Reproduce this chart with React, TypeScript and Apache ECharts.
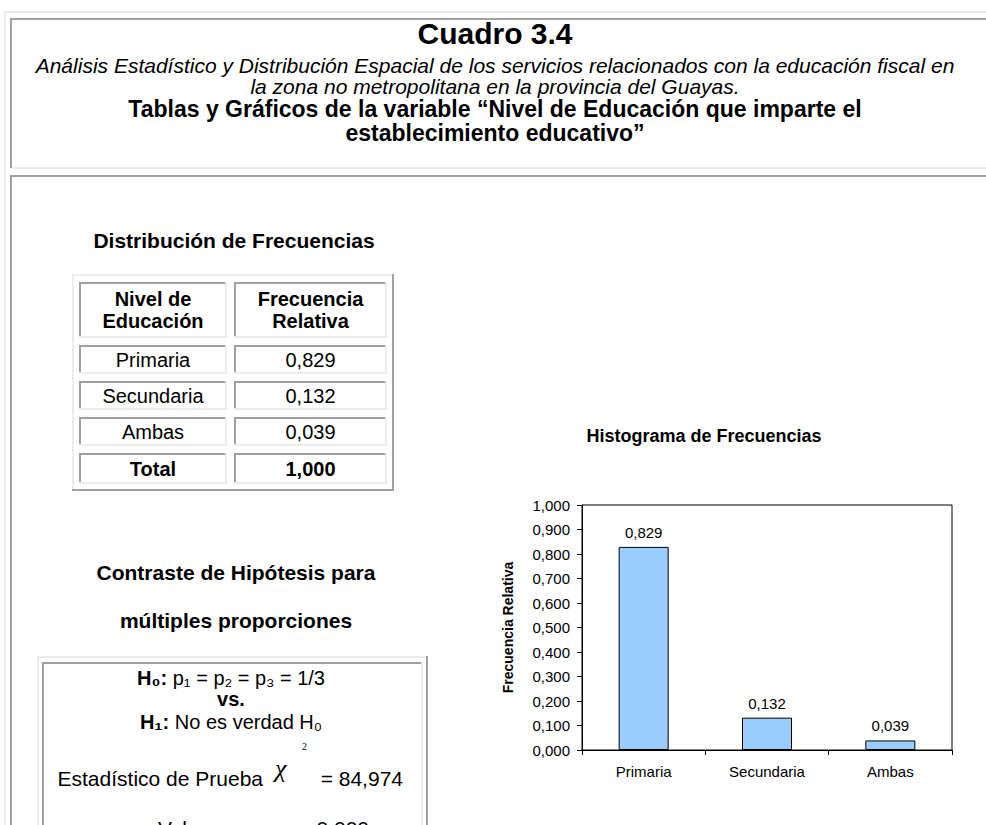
import React, { useEffect, useRef } from "react";
import * as echarts from "echarts";

// ---------- data ----------
const categories = ["Primaria", "Secundaria", "Ambas"];
const relFreq = [0.829, 0.132, 0.039];
const totalFreq = 1.0;
const headerCol1 = ["Nivel de", "Educación"];
const headerCol2 = ["Frecuencia", "Relativa"];
const yMin = 0;
const yMax = 1;
const yInterval = 0.1;
const chiSquare = 84.974;
const pValue = 0.0;

const FONT = "'Liberation Sans', Arial, Helvetica, sans-serif";
const SERIF = "'Liberation Serif', 'Times New Roman', serif";
const DARK = "#a0a0a0";
const LIGHT = "#ececec";

const fmt = (v: number) => v.toFixed(3).replace(".", ",");

const rect = (x: number, y: number, w: number, h: number, fill: string) => ({
  type: "rect",
  silent: true,
  shape: { x, y, width: w, height: h },
  style: { fill },
});

const txt = (
  x: number,
  y: number,
  text: string,
  size: number,
  opts: any = {}
) => ({
  type: "text",
  silent: true,
  x,
  y,
  style: {
    text,
    fontSize: size,
    fontFamily: opts.family || FONT,
    fontWeight: opts.bold ? "bold" : "normal",
    fontStyle: opts.italic ? "italic" : "normal",
    fill: "#000",
    align: opts.align || "center",
    textAlign: opts.align || "center",
    verticalAlign: "middle",
    textVerticalAlign: "middle",
    rich: opts.rich,
  },
});

// inset cell: dark top/left, light bottom/right
const insetCell = (x1: number, y1: number, x2: number, y2: number) => [
  rect(x1, y1, x2 - x1, 2, DARK),
  rect(x1, y1, 2, y2 - y1, DARK),
  rect(x1, y2 - 2, x2 - x1, 2, LIGHT),
  rect(x2 - 2, y1, 2, y2 - y1, LIGHT),
];

function buildGraphic() {
  const els: any[] = [];
  // page frame
  els.push(rect(4, 11, 982, 2, LIGHT));
  els.push(rect(4, 11, 2, 814, LIGHT));
  els.push(rect(10, 18, 976, 2, DARK));
  els.push(rect(10, 18, 2, 150, DARK));
  els.push(rect(12, 167, 974, 2, LIGHT));
  els.push(rect(10, 175, 976, 2, DARK));
  els.push(rect(10, 175, 2, 650, DARK));

  // header texts
  els.push(txt(495, 33, "Cuadro 3.4", 30, { bold: true }));
  els.push(
    txt(
      495,
      65,
      "Análisis Estadístico y Distribución Espacial de los servicios relacionados con la educación fiscal en",
      21,
      { italic: true }
    )
  );
  els.push(txt(495, 86, "la zona no metropolitana en la provincia del Guayas.", 21, { italic: true }));
  els.push(
    txt(495, 109, "Tablas y Gráficos de la variable “Nivel de Educación que imparte el", 23, { bold: true })
  );
  els.push(txt(495, 133, "establecimiento educativo”", 23, { bold: true }));

  // frequency table
  els.push(txt(234, 240, "Distribución de Frecuencias", 21, { bold: true }));
  const tx1 = 72, tx2 = 394, ty1 = 274, ty2 = 491;
  els.push(rect(tx1, ty1, tx2 - tx1, 2, LIGHT));
  els.push(rect(tx1, ty1, 2, ty2 - ty1, LIGHT));
  els.push(rect(tx2 - 2, ty1, 2, ty2 - ty1, DARK));
  els.push(rect(tx1, ty2 - 2, tx2 - tx1, 2, DARK));
  const c1 = [79, 227];
  const c2 = [234, 387];
  const cx1 = (c1[0] + c1[1]) / 2;
  const cx2 = (c2[0] + c2[1]) / 2;
  // header row
  els.push(...insetCell(c1[0], 282, c1[1], 338));
  els.push(...insetCell(c2[0], 282, c2[1], 338));
  els.push(txt(cx1, 299, headerCol1[0], 20, { bold: true }));
  els.push(txt(cx1, 321, headerCol1[1], 20, { bold: true }));
  els.push(txt(cx2, 299, headerCol2[0], 20, { bold: true }));
  els.push(txt(cx2, 321, headerCol2[1], 20, { bold: true }));
  const rowTops = [345, 381, 417];
  categories.forEach((c, i) => {
    const t = rowTops[i];
    els.push(...insetCell(c1[0], t, c1[1], t + 29));
    els.push(...insetCell(c2[0], t, c2[1], t + 29));
    els.push(txt(cx1, t + 15, c, 20));
    els.push(txt(cx2, t + 15, fmt(relFreq[i]), 20));
  });
  els.push(...insetCell(c1[0], 453, c1[1], 484));
  els.push(...insetCell(c2[0], 453, c2[1], 484));
  els.push(txt(cx1, 469, "Total", 20, { bold: true }));
  els.push(txt(cx2, 469, fmt(totalFreq), 20, { bold: true }));

  // hypothesis section
  els.push(txt(236, 572, "Contraste de Hipótesis para", 21, { bold: true }));
  els.push(txt(236, 620, "múltiples proporciones", 21, { bold: true }));
  els.push(rect(37, 656, 391, 2, LIGHT));
  els.push(rect(37, 656, 2, 169, LIGHT));
  els.push(rect(426, 656, 2, 169, DARK));
  els.push(rect(42, 662, 381, 2, DARK));
  els.push(rect(42, 662, 2, 163, DARK));
  els.push(rect(421, 662, 2, 163, LIGHT));

  const rich = { b: { fontWeight: "bold", fontSize: 20, fontFamily: FONT } };
  els.push(txt(231, 678, "{b|H₀:} p₁ = p₂ = p₃ = 1/3", 20, { rich }));
  els.push(txt(231, 699, "vs.", 20, { bold: true }));
  els.push(txt(231, 722, "{b|H₁:} No es verdad H₀", 20, { rich }));
  els.push(txt(263, 778, "Estadístico de Prueba", 21, { align: "right" }));
  els.push(txt(275, 768, "χ", 26, { align: "left", italic: true, family: SERIF }));
  els.push(txt(302, 746, "2", 10, { align: "left", family: SERIF }));
  els.push(txt(403, 778, "= " + chiSquare.toFixed(3).replace(".", ","), 21, { align: "right" }));
  els.push(txt(158, 828, "Valor p", 21, { align: "left" }));
  els.push(txt(369, 828, "= " + fmt(pValue), 21, { align: "right" }));

  // histogram title
  els.push(txt(704, 436, "Histograma de Frecuencias", 18, { bold: true }));
  return els;
}

export default function App() {
  const ref = useRef<HTMLDivElement>(null);
  useEffect(() => {
    if (!ref.current) return;
    const chart = echarts.init(ref.current, undefined, { renderer: "svg" });
    chart.setOption({
      animation: false,
      backgroundColor: "#ffffff",
      textStyle: { fontFamily: FONT },
      grid: {
        left: 582,
        top: 505,
        width: 370,
        height: 245,
        show: true,
        borderColor: "#000",
        borderWidth: 1,
        backgroundColor: "transparent",
      },
      xAxis: {
        type: "category",
        data: categories,
        axisLine: { lineStyle: { color: "#000", width: 1 } },
        axisTick: { show: true, length: 5, alignWithLabel: false, lineStyle: { color: "#000" } },
        axisLabel: { color: "#000", fontSize: 15, margin: 14, fontFamily: FONT },
        splitLine: { show: false },
      },
      yAxis: {
        type: "value",
        min: yMin,
        max: yMax,
        interval: yInterval,
        axisLine: { show: true, lineStyle: { color: "#000", width: 1 } },
        axisTick: { show: true, length: 5, lineStyle: { color: "#000" } },
        axisLabel: {
          color: "#000",
          fontSize: 15,
          margin: 12,
          fontFamily: FONT,
          formatter: (v: number) => fmt(v),
        },
        splitLine: { show: false },
        name: "Frecuencia Relativa",
        nameLocation: "middle",
        nameGap: 67,
        nameRotate: 90,
        nameTextStyle: { fontWeight: "bold", fontSize: 14, color: "#000", fontFamily: FONT },
      },
      series: [
        {
          type: "bar",
          data: relFreq,
          barWidth: 50,
          itemStyle: { color: "#99ccff", borderColor: "#000", borderWidth: 1 },
          label: {
            show: true,
            position: "top",
            distance: 7,
            color: "#000",
            fontSize: 15,
            fontFamily: FONT,
            formatter: (p: any) => fmt(p.value),
          },
        },
      ],
      graphic: { elements: buildGraphic() },
    });
    return () => chart.dispose();
  }, []);
  return (
    <div
      ref={ref}
      style={{ position: "absolute", left: 0, top: 0, width: 986, height: 825, background: "#fff" }}
    />
  );
}
